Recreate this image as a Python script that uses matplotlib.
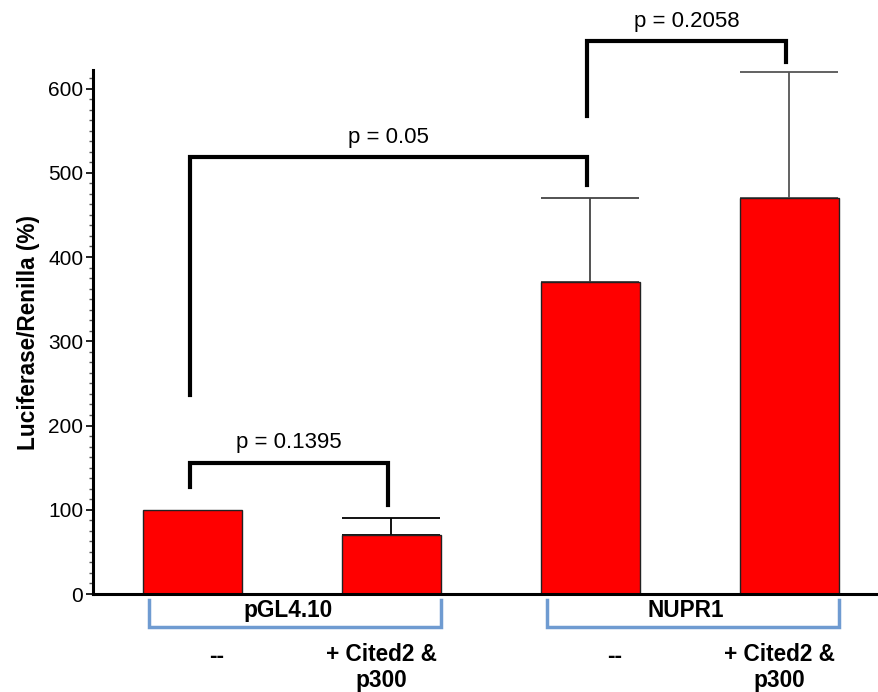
import matplotlib
matplotlib.use("Agg")
import matplotlib.pyplot as plt
from matplotlib.ticker import MultipleLocator

plt.rcParams['font.family'] = ['Liberation Sans', 'DejaVu Sans']

groups = ["pGL4.10", "NUPR1"]
conditions = ["--", "+ Cited2 &\np300", "--", "+ Cited2 &\np300"]
values = [100, 70, 370, 470]
errors = [0, 20, 100, 150]
err_colors = ["black", "black", "#444444", "#555555"]
# significance comparisons: (bar i, bar j, bracket level, left leg bottom, right leg bottom, label)
comparisons = [
    (0, 1, 156, 127, 106, "p = 0.1395"),
    (0, 2, 519, 236, 486, "p = 0.05"),
    (2, 3, 656, 567, 632, "p = 0.2058"),
]

W, H = 879, 692
fig = plt.figure(figsize=(W / 100, H / 100), dpi=100)
ax = fig.add_axes([93 / W, 98 / H, (W - 93) / W, (594 - 70) / H])

x = list(range(len(values)))
ax.bar(x, values, width=0.5, color="#ff0000", edgecolor="#222222", linewidth=1.0, zorder=2)
for xi, v, e, c in zip(x, values, errors, err_colors):
    if e > 0:
        ax.errorbar([xi], [v], yerr=[[0], [e]], fmt="none", ecolor=c,
                    elinewidth=1.3, capsize=35, capthick=1.3, zorder=1)

ax.set_xlim(-0.5, 3.45)
ax.set_ylim(0, 622)
ax.yaxis.set_major_locator(MultipleLocator(100))
ax.yaxis.set_minor_locator(MultipleLocator(12.5))
ax.tick_params(axis="y", which="major", direction="out", length=5, width=1.2,
               labelsize=15, pad=2)
ax.tick_params(axis="y", which="minor", direction="out", length=3, width=1.0, color="#555555")
ax.set_xticks([])
for s in ["top", "right"]:
    ax.spines[s].set_visible(False)
ax.spines["left"].set_linewidth(2.2)
ax.spines["bottom"].set_linewidth(2.2)

ax.set_ylabel("Luciferase/Renilla (%)", fontsize=16.3, fontweight="bold", labelpad=6)

# significance brackets
for i, j, lvl, lb, rb, lab in comparisons:
    xl, xr = x[i] - 0.015, x[j] - 0.015
    ax.plot([xl, xl, xr, xr], [lb, lvl, lvl, rb], color="black", lw=3,
            solid_joinstyle="miter", clip_on=False, zorder=3)
    ax.text((xl + xr) / 2, lvl + 11, lab, ha="center", va="bottom", fontsize=16,
            clip_on=False)

# group brackets below axis
blue = "#6f9bd1"
for g, (a, b) in zip(groups, [(0, 1), (2, 3)]):
    xl, xr = x[a] - 0.22, x[b] + 0.25
    ax.plot([xl, xl, xr, xr], [-7, -39, -39, -7], color=blue, lw=2.5,
            clip_on=False, solid_joinstyle="miter")
    ax.text((x[a] + x[b]) / 2 - 0.02, -19, g, ha="center", va="center", fontsize=16.3,
            fontweight="bold")

for xi, c in zip(x, conditions):
    if c == "--":
        ax.text(xi + 0.12, -60, c, ha="center", va="top", fontsize=16.3, fontweight="bold")
    else:
        ax.text(xi - 0.05, -58, c, ha="center", va="top", fontsize=16.3, fontweight="bold",
                linespacing=1.2)

fig.savefig("out.png", dpi=100)
